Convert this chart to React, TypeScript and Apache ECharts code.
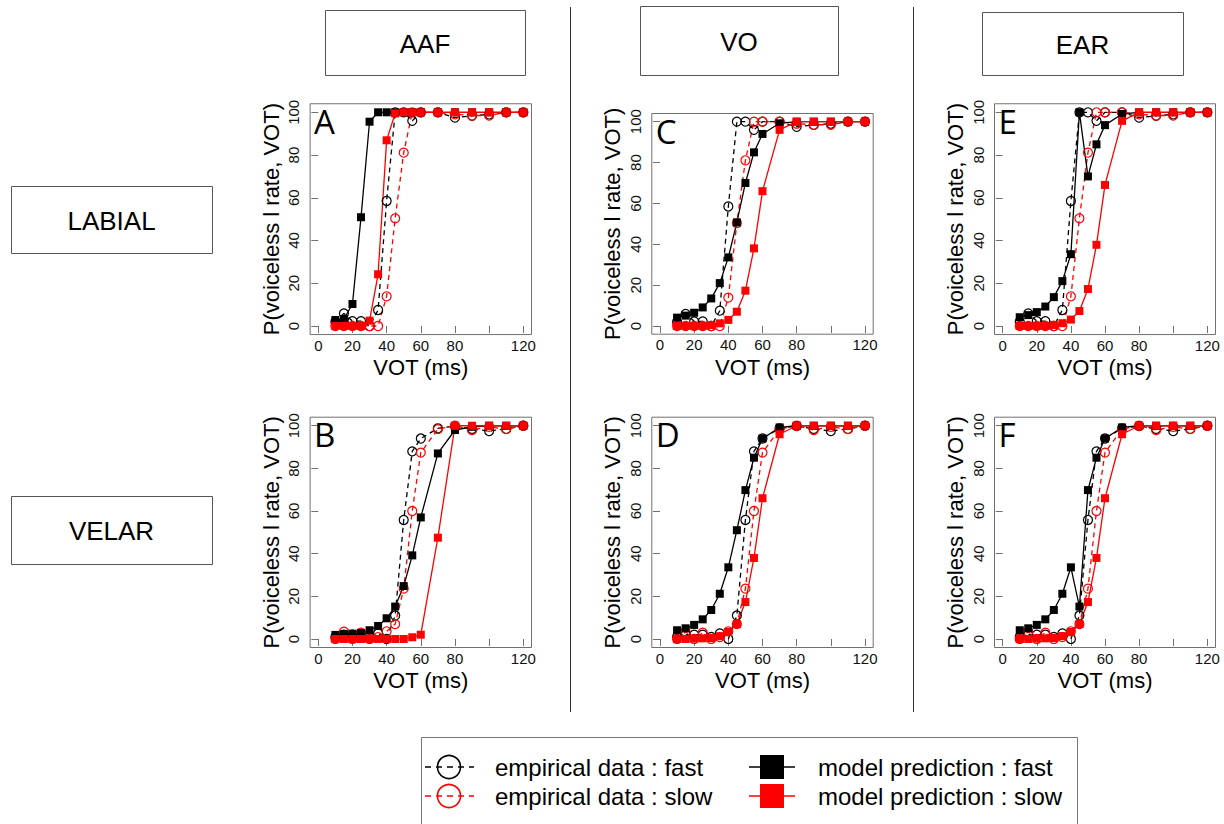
import React, { useEffect, useRef } from "react";
import * as echarts from "echarts";

const VOT = [10, 15, 20, 25, 30, 35, 40, 45, 50, 55, 60, 70, 80, 90, 100, 110, 120];
const X_TICKS = [0, 20, 40, 60, 80, 100, 120];
const X_LABELS = [0, 20, 40, 60, 80, 120];
const Y_TICKS = [0, 20, 40, 60, 80, 100];

const COLUMNS = ["AAF", "VO", "EAR"];
const ROWS = ["LABIAL", "VELAR"];

// empirical data (same in every column of a row)
const labialEmpFast = [2, 5.9, 2.3, 2.3, 0, 7.5, 58.5, 100, 100, 96, 100, 100, 97.5, 98.4, 99, 100, 100];
const labialEmpSlow = [0, 0, 0, 0, 0, 0, 13.9, 50.4, 81.1, 100, 100, 100, 99, 98.5, 98.5, 100, 100];
const velarEmpFast = [1, 2, 2, 2, 1, 2.6, 0, 11, 55.8, 88, 94, 98.8, 99.8, 98.5, 97.5, 98.5, 100];
const velarEmpSlow = [0, 3.4, 0, 3, 0, 0.9, 3.6, 7, 23.6, 60, 87.4, 98.4, 100, 98, 99.5, 98.4, 100];

// model predictions
const labialAafFast = [2.8, 3.3, 10.3, 50.9, 95.6, 100, 100, 100, 100, 100, 100, 100, 100, 100, 100, 100, 100];
const labialAafSlow = [0, 0, 0, 0, 2.5, 24.2, 86.9, 99.5, 100, 100, 100, 100, 100, 100, 100, 100, 100];
const labialVoFast = [4.1, 5.1, 6.5, 9.1, 13.5, 21, 33.6, 50.7, 70, 85, 94, 99.2, 100, 100, 100, 100, 100];
const labialVoSlow = [0, 0, 0, 0, 0.5, 1.3, 3, 7, 17.3, 38, 66, 96, 100, 100, 100, 100, 100];
const labialEarFast = [4.1, 5.1, 6.5, 9.1, 13.5, 21, 33.6, 100, 70, 85, 94, 99.2, 100, 100, 100, 100, 100];
const labialEarSlow = [0, 0, 0, 0, 0.5, 1.3, 3, 7, 17.3, 38, 66, 96, 100, 100, 100, 100, 100];
const velarAafFast = [1.9, 2.2, 2.5, 2.8, 4.1, 6.1, 9.7, 15.2, 24.8, 39.2, 57, 87, 98, 99.5, 100, 100, 100];
const velarAafSlow = [0, 0, 0, 0, 0, 0, 0, 0, 0, 0.8, 2, 47.5, 100, 100, 100, 100, 100];
const velarVoFast = [4.1, 5, 6.6, 9.2, 13.6, 21.2, 33.6, 51, 69.8, 85, 94, 99.2, 100, 100, 100, 100, 100];
const velarVoSlow = [0, 0, 0.2, 0.3, 0.5, 1.3, 3.3, 7, 17.3, 38, 66, 96, 100, 100, 100, 100, 100];
const velarEarFast = [4.1, 5, 6.6, 9.2, 13.6, 21.2, 33.6, 15.2, 69.8, 85, 94, 99.2, 100, 100, 100, 100, 100];
const velarEarSlow = [0, 0, 0.2, 0.3, 0.5, 1.3, 3.3, 7, 17.3, 38, 66, 96, 100, 100, 100, 100, 100];

const LEGEND_LABELS = [
  "empirical data : fast",
  "empirical data : slow",
  "model prediction : fast",
  "model prediction : slow",
];

const FONT = '"Liberation Sans", Arial, Helvetica, sans-serif';
const TICK_FONT = 15;

const PANELS = [
  { letter: "A", rect: [310.1, 103.75, 221.4, 230.8], empF: labialEmpFast, empS: labialEmpSlow, modF: labialAafFast, modS: labialAafSlow },
  { letter: "C", rect: [651.8, 113.5, 221.4, 220.7], empF: labialEmpFast, empS: labialEmpSlow, modF: labialVoFast, modS: labialVoSlow },
  { letter: "E", rect: [994.5, 103.75, 221.0, 230.8], empF: labialEmpFast, empS: labialEmpSlow, modF: labialEarFast, modS: labialEarSlow },
  { letter: "B", rect: [310.1, 417.2, 221.4, 230.3], empF: velarEmpFast, empS: velarEmpSlow, modF: velarAafFast, modS: velarAafSlow },
  { letter: "D", rect: [651.8, 417.2, 221.4, 230.3], empF: velarEmpFast, empS: velarEmpSlow, modF: velarVoFast, modS: velarVoSlow },
  { letter: "F", rect: [994.5, 417.2, 221.0, 230.3], empF: velarEmpFast, empS: velarEmpSlow, modF: velarEarFast, modS: velarEarSlow },
];

const pairs = (ys: number[]) => VOT.map((x, i) => [x, ys[i]]);
const xLabel = (v: number) => (X_LABELS.indexOf(Math.round(v * 1000) / 1000) >= 0 ? String(v) : "");
const yLabel = (v: number) => (Y_TICKS.indexOf(Math.round(v * 1000) / 1000) >= 0 ? String(v) : "");

function buildOption() {
  const grid: any[] = [];
  const xAxis: any[] = [];
  const yAxis: any[] = [];
  const series: any[] = [];
  const graphic: any[] = [];

  PANELS.forEach((p, i) => {
    const [l, t, w, h] = p.rect;
    grid.push({ left: l, top: t, width: w, height: h, show: true, borderColor: "#707070", borderWidth: 1, backgroundColor: "transparent" });
    xAxis.push({
      type: "value", gridIndex: i, min: -4.8, max: 124.8, minInterval: 20, maxInterval: 20,
      name: "VOT (ms)", nameLocation: "middle", nameGap: 22,
      nameTextStyle: { fontFamily: FONT, fontSize: 22, color: "#000" },
      axisLine: { show: false },
      axisTick: { show: true, customValues: X_TICKS, length: 7, lineStyle: { color: "#707070" } },
      axisLabel: {
        show: true, margin: 3, showMinLabel: false, showMaxLabel: false, hideOverlap: false,
        formatter: xLabel, fontFamily: FONT, fontSize: TICK_FONT, color: "#111",
      },
      splitLine: { show: false },
    });
    yAxis.push({
      type: "value", gridIndex: i, min: -4, max: 104, minInterval: 20, maxInterval: 20,
      name: "P(voiceless l rate, VOT)", nameLocation: "middle", nameGap: 28, nameRotate: 90,
      nameTextStyle: { fontFamily: FONT, fontSize: 22, color: "#000" },
      axisLine: { show: false },
      axisTick: { show: true, customValues: Y_TICKS, length: 7, lineStyle: { color: "#707070" } },
      axisLabel: {
        show: true, rotate: 90, margin: 9, showMinLabel: false, showMaxLabel: false, hideOverlap: false,
        formatter: yLabel, fontFamily: FONT, fontSize: TICK_FONT, color: "#111",
      },
      splitLine: { show: false },
    });
    const mk = (name: string, ys: number[], color: string, empirical: boolean) => ({
      type: "line", name, xAxisIndex: i, yAxisIndex: i, data: pairs(ys),
      symbol: empirical ? "circle" : "rect",
      symbolSize: empirical ? 9 : 8,
      lineStyle: { color, width: 1.3, type: empirical ? [5, 4] : "solid" },
      itemStyle: empirical
        ? { color: "rgba(255,255,255,0)", borderColor: color, borderWidth: 1.2 }
        : { color, borderWidth: 0 },
      emphasis: { disabled: true },
      silent: true,
      clip: false,
    });
    series.push(mk(LEGEND_LABELS[0], p.empF, "#000", true));
    series.push(mk(LEGEND_LABELS[1], p.empS, "#ff0000", true));
    series.push(mk(LEGEND_LABELS[2], p.modF, "#000", false));
    series.push(mk(LEGEND_LABELS[3], p.modS, "#ff0000", false));

    graphic.push({
      type: "text", x: l + 4, y: t + 1, z: 10,
      style: { text: p.letter, font: '33px "Open Sans", sans-serif', fill: "#000", textAlign: "left", textVerticalAlign: "top", align: "left", verticalAlign: "top" },
    });
  });

  // header boxes
  const boxes = [
    { label: COLUMNS[0], r: [325, 10, 200, 65] },
    { label: COLUMNS[1], r: [640, 6, 198, 69] },
    { label: COLUMNS[2], r: [982, 12, 201, 63] },
    { label: ROWS[0], r: [11, 186, 201, 67] },
    { label: ROWS[1], r: [11, 496, 201, 68] },
  ];
  boxes.forEach((b) => {
    const [x, y, w, h] = b.r;
    graphic.push({ type: "rect", shape: { x: x + 0.5, y: y + 0.5, width: w, height: h }, style: { fill: "#fff", stroke: "#555", lineWidth: 1 } });
    graphic.push({
      type: "text", x: x + w / 2, y: y + h / 2 + 1,
      style: { text: b.label, font: `26px ${FONT}`, fill: "#000", textAlign: "center", textVerticalAlign: "middle", align: "center", verticalAlign: "middle" },
    });
  });

  // separators
  [570.5, 913.5].forEach((x) => {
    graphic.push({ type: "line", shape: { x1: x, y1: 7, x2: x, y2: 712 }, style: { stroke: "#333", lineWidth: 1 } });
  });

  // legend
  graphic.push({ type: "rect", shape: { x: 421.5, y: 737.5, width: 656, height: 110 }, style: { fill: "#fff", stroke: "#777", lineWidth: 1 } });
  const rowsY = [767, 796];
  const colors = ["#000", "#ff0000"];
  rowsY.forEach((y, k) => {
    const c = colors[k];
    graphic.push({ type: "line", shape: { x1: 425, y1: y, x2: 474, y2: y }, style: { stroke: c, lineWidth: 1.5, lineDash: [6, 5] } });
    graphic.push({ type: "circle", shape: { cx: 449, cy: y, r: 11.5 }, style: { fill: "none", stroke: c, lineWidth: 1.6 } });
    graphic.push({
      type: "text", x: 495, y: y,
      style: { text: LEGEND_LABELS[k], font: `24px ${FONT}`, fill: "#000", textAlign: "left", textVerticalAlign: "middle", align: "left", verticalAlign: "middle" },
    });
    graphic.push({ type: "line", shape: { x1: 749, y1: y, x2: 795, y2: y }, style: { stroke: c, lineWidth: 1.6 } });
    graphic.push({ type: "rect", shape: { x: 760, y: y - 12, width: 24, height: 24 }, style: { fill: c, stroke: "none" } });
    graphic.push({
      type: "text", x: 818, y: y,
      style: { text: LEGEND_LABELS[k + 2], font: `24px ${FONT}`, fill: "#000", textAlign: "left", textVerticalAlign: "middle", align: "left", verticalAlign: "middle" },
    });
  });

  return {
    animation: false,
    backgroundColor: "#fff",
    textStyle: { fontFamily: FONT },
    grid, xAxis, yAxis, series, graphic,
  };
}

export default function App() {
  const ref = useRef<HTMLDivElement>(null);
  useEffect(() => {
    if (!ref.current) return;
    const chart = echarts.init(ref.current, undefined, { renderer: "svg" });
    chart.setOption(buildOption() as any);
    return () => chart.dispose();
  }, []);
  return (
    <div
      ref={ref}
      style={{ position: "fixed", left: 0, top: 0, width: 1224, height: 824, background: "#fff" }}
    />
  );
}
